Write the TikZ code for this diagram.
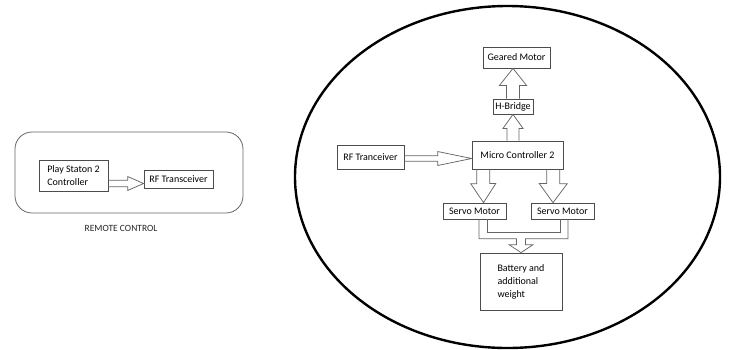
\documentclass[tikz,border=0pt]{standalone}
\usepackage{fontspec}
\setmainfont{Carlito}
\usetikzlibrary{calc,shapes.geometric}

% hollow block arrow: from, to, shaft half width, head half width, head length
\newcommand{\fatarrow}[5]{%
  \draw[pipe] let \p1=(#1), \p2=(#2),
    \n1={atan2(\y2-\y1,\x2-\x1)}, \n2={veclen(\x2-\x1,\y2-\y1)} in
    [shift={(\p1)}, rotate=\n1]
    (0pt,#3pt) -- (\n2-#5pt,#3pt) -- (\n2-#5pt,#4pt) -- (\n2,0pt)
    -- (\n2-#5pt,-#4pt) -- (\n2-#5pt,-#3pt) -- (0pt,-#3pt);}

\begin{document}
\begin{tikzpicture}[x=1pt, y=-1pt,
    block/.style={draw=black!70, line width=0.75pt, inner sep=0pt,
      font=\fontsize{10}{12.5}\selectfont, text=black},
    pipe/.style={draw=black!60, line width=0.75pt}]
    \useasboundingbox (0,0) rectangle (729,349);

    % Remote control unit
    \node[draw=black!60, line width=0.8pt, rounded corners=17pt,
      minimum width=228pt, minimum height=81pt] (remote) at (129,172.5) {};
    \node[font=\fontsize{9.5}{11}\selectfont, text=black!85] (rclabel) at (121,228) {REMOTE CONTROL};
    \node[block, minimum width=69pt, minimum height=31pt, align=left] (ps) at (73.5,175.5) {Play Staton 2\\Controller};
    \node[block, minimum width=69pt, minimum height=18pt] (rfa) at (178.5,179) {RF Transceiver};
    \fatarrow{$(ps.east)+(0,8)$}{$(rfa.west)+(0,4.5)$}{3.3}{7}{16}

    % Robot body
    \node[draw, ellipse, line width=2.4pt, inner sep=0pt,
      minimum width=425pt, minimum height=342pt] (robot) at (507.5,177) {};

    \node[block, minimum width=67pt, minimum height=21pt] (gm) at (516.5,57.5) {Geared Motor};
    \node[block, minimum width=40pt, minimum height=15pt] (hb) at (513,106.5) {H-Bridge};
    \node[block, minimum width=91pt, minimum height=28pt] (mc) at (517.5,155) {Micro Controller 2};
    \node[block, minimum width=67pt, minimum height=24pt] (rfb) at (370.5,157) {RF Tranceiver};
    \node[block, minimum width=63pt, minimum height=16pt] (sv1) at (474.5,211) {Servo Motor};
    \node[block, minimum width=63pt, minimum height=16pt] (sv2) at (562.5,211) {Servo Motor};
    \node[block, minimum width=82pt, minimum height=57pt, align=left,
      font=\fontsize{10}{13}\selectfont] (bat) at (521,281.5) {Battery and\\additional\\weight};

    % Block arrows
    \fatarrow{hb.north}{gm.south -| hb.north}{6.5}{13.5}{17}
    \fatarrow{mc.north -| hb.south}{hb.south}{6}{10}{14}
    \fatarrow{$(rfb.east)+(0,1.5)$}{$(mc.west)+(0,3.5)$}{2.7}{7}{34}
    \fatarrow{$(mc.south west)+(11.5,0)$}{$(sv1.north)+(9,0)$}{6.5}{12.5}{19}
    \fatarrow{$(mc.south east)+(-10,0)$}{$(sv2.north)+(-9.5,0)$}{6.5}{14}{19}

    % Servos join into battery
    \draw[pipe] ($(sv1.south)+(12.5,0)$) |- ($(bat.north)+(0,-20)$) -| ($(sv2.south)+(-2.5,0)$);
    \draw[pipe] ($(sv1.south)+(4.5,0)$) |- ($(bat.north)+(-4.5,-14)$) -- ($(bat.north)+(-4.5,-8)$)
      -- ($(bat.north)+(-12,-8)$) -- (bat.north) -- ($(bat.north)+(12,-8)$)
      -- ($(bat.north)+(4.5,-8)$) -- ($(bat.north)+(4.5,-14)$) -| ($(sv2.south)+(5.5,0)$);
\end{tikzpicture}
\end{document}
